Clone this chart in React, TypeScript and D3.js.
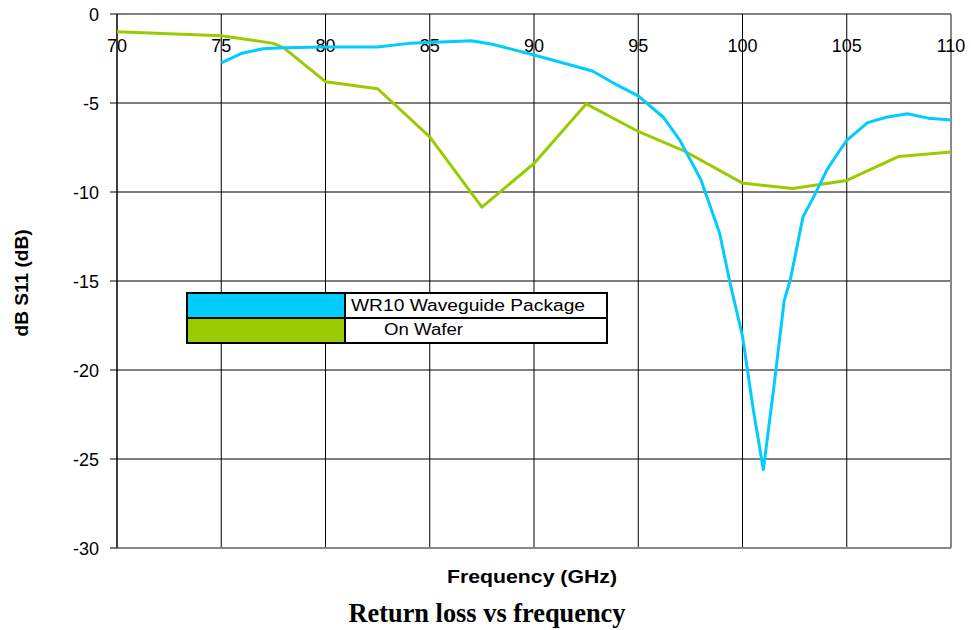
import * as d3 from "d3";
import React from "react";

const width = 971;
const height = 630;

// frequency (GHz) and dB S11
const waveguideFreq = [75, 76, 77, 78, 80, 82.5, 84, 85, 87, 88, 90, 92.8, 94, 95, 96.2, 97, 98, 98.9, 99.4, 100, 100.5, 101, 101.5, 102, 102.3, 102.9, 103.4, 104.05, 104.7, 105, 106, 106.9, 107.9, 108.9, 110];
const waveguideDb = [-2.75, -2.2, -1.95, -1.9, -1.85, -1.85, -1.65, -1.6, -1.5, -1.7, -2.3, -3.2, -4.0, -4.6, -5.8, -7.1, -9.3, -12.3, -15.1, -18.1, -22.1, -25.6, -21, -16.1, -14.9, -11.4, -10.3, -8.76, -7.6, -7.1, -6.1, -5.8, -5.6, -5.85, -5.95];

const waferFreq = [70, 75, 77.5, 78, 80, 82.5, 85, 87.5, 90, 92.5, 95, 97.3, 100, 102.4, 105, 107.5, 110];
const waferDb = [-1.0, -1.22, -1.65, -1.9, -3.8, -4.2, -6.9, -10.85, -8.4, -5.05, -6.6, -7.75, -9.5, -9.8, -9.35, -8.0, -7.75];

const xTicks = [70, 75, 80, 85, 90, 95, 100, 105, 110];
const yTicks = [0, -5, -10, -15, -20, -25, -30];

const seriesNames = ["WR10 Waveguide Package", "On Wafer"];
const seriesColors = ["#00CCFF", "#99CC00"];

const x = d3.scaleLinear().domain([70, 110]).range([117, 951]);
const y = d3.scaleLinear().domain([0, -30]).range([14, 548]);

const line = d3
  .line<[number, number]>()
  .x((d) => x(d[0]))
  .y((d) => y(d[1]));

const App = () => {
  const waveguide = waveguideFreq.map((f, i) => [f, waveguideDb[i]] as [number, number]);
  const wafer = waferFreq.map((f, i) => [f, waferDb[i]] as [number, number]);
  const font = "Liberation Sans, Arial, sans-serif";

  return (
    <svg
      width={width}
      height={height}
      style={{ position: "absolute", left: 0, top: 0, background: "#fff" }}
    >
      {/* grid */}
      {xTicks.map((t) => (
        <line key={"gx" + t} x1={x(t)} x2={x(t)} y1={y(0)} y2={y(-30)} stroke="#000" strokeWidth={1} />
      ))}
      {yTicks.map((t) => (
        <line key={"gy" + t} x1={x(70) - 7} x2={x(110)} y1={y(t)} y2={y(t)} stroke="#000" strokeWidth={1} />
      ))}
      <line x1={x(110)} x2={x(110)} y1={y(0)} y2={y(-30)} stroke="#888" strokeWidth={2} />
      <line x1={x(70)} x2={x(110)} y1={y(-30)} y2={y(-30)} stroke="#888" strokeWidth={2} />
      <line x1={x(70)} x2={x(70)} y1={y(0)} y2={y(-30)} stroke="#000" strokeWidth={1} />

      {/* y tick labels */}
      {yTicks.map((t) => (
        <text key={"yl" + t} x={99} y={y(t) + 6.5} textAnchor="end" fontFamily={font} fontSize={18}>
          {t}
        </text>
      ))}
      {/* x tick labels */}
      {xTicks.map((t) => (
        <text key={"xl" + t} x={x(t)} y={52} textAnchor="middle" fontFamily={font} fontSize={18}>
          {t}
        </text>
      ))}

      {/* series */}
      <path d={line(wafer) || ""} fill="none" stroke={seriesColors[1]} strokeWidth={3} strokeLinejoin="round" />
      <path d={line(waveguide) || ""} fill="none" stroke={seriesColors[0]} strokeWidth={3} strokeLinejoin="round" />

      {/* legend */}
      <g>
        <rect x={187} y={293} width={420} height={50} fill="#fff" stroke="#000" strokeWidth={2} />
        <rect x={188} y={294} width={157} height={24} fill={seriesColors[0]} />
        <rect x={188} y={318} width={157} height={24} fill={seriesColors[1]} />
        <line x1={345} x2={345} y1={293} y2={343} stroke="#000" strokeWidth={2} />
        <line x1={187} x2={607} y1={318} y2={318} stroke="#000" strokeWidth={2} />
        <text x={351} y={311} fontFamily={font} fontSize={16} textLength={234} lengthAdjust="spacingAndGlyphs">
          {seriesNames[0]}
        </text>
        <text x={384} y={335} fontFamily={font} fontSize={16} textLength={79} lengthAdjust="spacingAndGlyphs">
          {seriesNames[1]}
        </text>
      </g>

      {/* axis titles */}
      <text
        transform={`translate(28, 283) rotate(-90)`}
        textAnchor="middle"
        fontFamily={font}
        fontWeight="bold"
        fontSize={18}
        textLength={107}
        lengthAdjust="spacingAndGlyphs"
      >
        dB S11 (dB)
      </text>
      <text
        x={532}
        y={583}
        textAnchor="middle"
        fontFamily={font}
        fontWeight="bold"
        fontSize={18}
        textLength={170}
        lengthAdjust="spacingAndGlyphs"
      >
        Frequency (GHz)
      </text>
      <text
        x={487}
        y={622}
        textAnchor="middle"
        fontFamily="Liberation Serif, Times New Roman, serif"
        fontWeight="bold"
        fontSize={27}
        textLength={277}
        lengthAdjust="spacingAndGlyphs"
      >
        Return loss vs frequency
      </text>
    </svg>
  );
};

export default App;
